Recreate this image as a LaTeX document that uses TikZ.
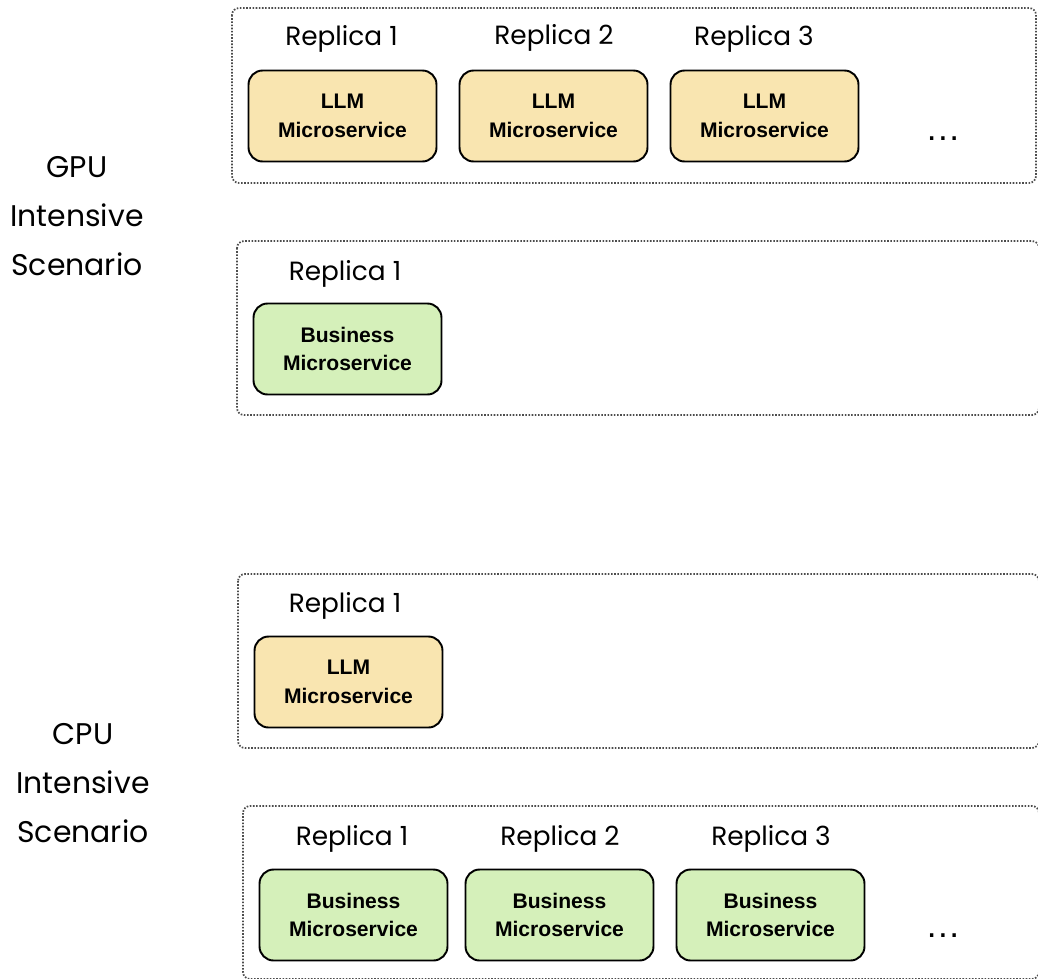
\documentclass[tikz,border=0pt]{standalone}
\usepackage{fontspec}
\setmainfont{Poppins}
\newfontfamily\boxfont{Liberation Sans}
\usepackage{xcolor}
\usetikzlibrary{positioning}
\definecolor{llmfill}{HTML}{F9E5B0}
\definecolor{bizfill}{HTML}{D5F0BA}

\begin{document}
\begin{tikzpicture}[
        x=0.02cm, y=-0.02cm,
        group/.style={draw=gray!60!black, line width=1pt, dash pattern=on 0.9pt off 0.9pt, rounded corners=4pt},
        service/.style={draw=black, line width=1.1pt, rounded corners=8pt, minimum width=3.76cm, minimum height=1.82cm, align=center, font=\boxfont\bfseries\fontsize{12}{16.4}\selectfont},
        llm/.style={service, fill=llmfill},
        business/.style={service, fill=bizfill},
        replica/.style={anchor=base, font=\fontsize{15}{18}\selectfont},
        scenario/.style={align=center, font=\fontsize{17}{28}\selectfont},
        more/.style={anchor=base, font=\boxfont\fontsize{20}{24}\selectfont},
    ]
        \useasboundingbox (0,0) rectangle (1038,978);
        \clip (0,0) rectangle (1038,978);

        % scenario labels
        \node[scenario] (gpu) at (77,216) {GPU\\Intensive\\Scenario};
        \node[scenario] (cpu) at (83,783) {CPU\\Intensive\\Scenario};

        % GPU intensive: LLM replicas
        \draw[group] (232,8) rectangle (1036,183);
        \node[llm] (llmA) at (342.5,116) {LLM\\Microservice};
        \node[llm] (llmB) at (553.5,116) {LLM\\Microservice};
        \node[llm] (llmC) at (764.5,116) {LLM\\Microservice};
        \node[replica] (repA) at (341.5,45) {Replica 1};
        \node[replica] (repB) at (554,44) {Replica 2};
        \node[replica] (repC) at (754,45) {Replica 3};
        \node[more] (moreA) at (943,140) {.\kern0.8pt.\kern0.8pt.};

        % GPU intensive: business replica
        \draw[group] (237,241) rectangle (1039,415);
        \node[business] (bizA) at (347.5,349) {Business\\Microservice};
        \node[replica] (repD) at (345,280) {Replica 1};

        % CPU intensive: LLM replica
        \draw[group] (238,574) rectangle (1039,748);
        \node[llm] (llmD) at (348.5,682) {LLM\\Microservice};
        \node[replica] (repE) at (345,612) {Replica 1};

        % CPU intensive: business replicas
        \draw[group] (243,806) rectangle (1039,979);
        \node[business] (bizB) at (353.5,915) {Business\\Microservice};
        \node[business] (bizC) at (559.5,915) {Business\\Microservice};
        \node[business] (bizD) at (770.5,915) {Business\\Microservice};
        \node[replica] (repF) at (352,845) {Replica 1};
        \node[replica] (repG) at (560,845) {Replica 2};
        \node[replica] (repH) at (771,845) {Replica 3};
        \node[more] (moreB) at (943,937) {.\kern0.8pt.\kern0.8pt.};
    \end{tikzpicture}
\end{document}
